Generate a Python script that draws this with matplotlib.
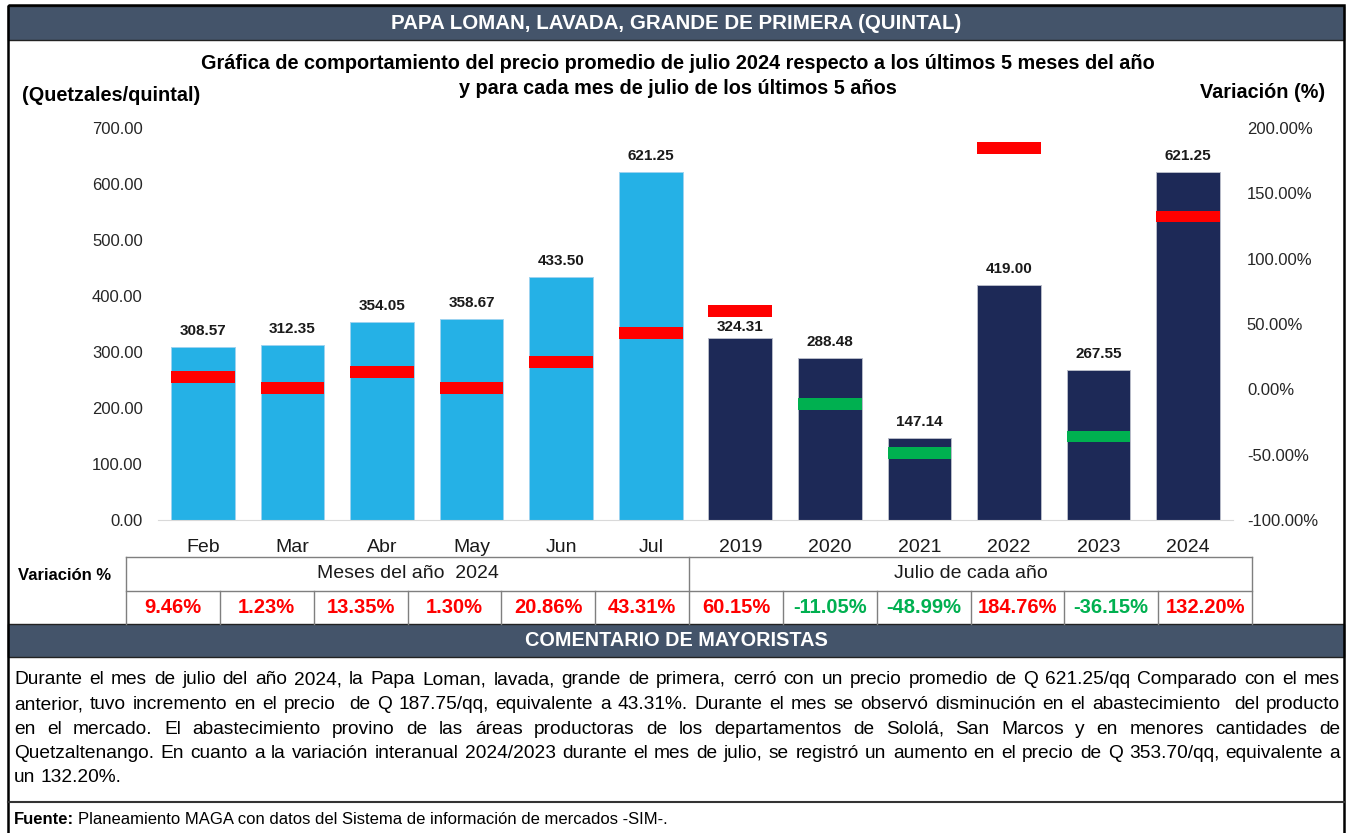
import numpy as np
import matplotlib
matplotlib.use('Agg')
import matplotlib.pyplot as plt
from matplotlib.patches import Rectangle
from matplotlib.ticker import FuncFormatter

plt.rcParams['font.family'] = ['Liberation Sans', 'DejaVu Sans']

# datos
meses = ['Feb', 'Mar', 'Abr', 'May', 'Jun', 'Jul']
precio_meses = [308.57, 312.35, 354.05, 358.67, 433.50, 621.25]
var_meses = [9.46, 1.23, 13.35, 1.30, 20.86, 43.31]
anios = ['2019', '2020', '2021', '2022', '2023', '2024']
precio_anios = [324.31, 288.48, 147.14, 419.00, 267.55, 621.25]
var_anios = [60.15, -11.05, -48.99, 184.76, -36.15, 132.20]

titulo = 'PAPA LOMAN, LAVADA, GRANDE DE PRIMERA (QUINTAL)'
subtitulo = ['Gráfica de comportamiento del precio promedio de julio 2024 respecto a los últimos 5 meses del año',
             'y para cada mes de julio de los últimos 5 años']
comentario = ['Durante el mes de julio del año 2024, la Papa Loman, lavada, grande de primera, cerró con un precio promedio de Q 621.25/qq Comparado con el mes',
              'anterior, tuvo incremento en el precio  de Q 187.75/qq, equivalente a 43.31%. Durante el mes se observó disminución en el abastecimiento  del producto',
              'en el mercado. El abastecimiento provino de las áreas productoras de los departamentos de Sololá, San Marcos y en menores cantidades de',
              'Quetzaltenango. En cuanto a la variación interanual 2024/2023 durante el mes de julio, se registró un aumento en el precio de Q 353.70/qq, equivalente a',
              'un 132.20%.']

celeste = '#25B1E6'
azul = '#1D2957'
pizarra = '#44546A'
rojo = '#FF0000'
verde = '#00B050'

W, H = 1348, 833
fig = plt.figure(figsize=(W / 100, H / 100), dpi=100)

# capa de fondo en pixeles
bg = fig.add_axes([0, 0, 1, 1])
bg.set_xlim(0, W)
bg.set_ylim(H, 0)
bg.axis('off')

# encabezado
bg.add_patch(Rectangle((8, 6), 1336, 34, fc=pizarra, ec='#222222', lw=1))
bg.text(676, 23, titulo, color='white', fontsize=14.8, fontweight='bold', ha='center', va='center')
bg.text(678, 63, subtitulo[0], fontsize=14.3, fontweight='bold', ha='center', va='center')
bg.text(678, 88, subtitulo[1], fontsize=14.3, fontweight='bold', ha='center', va='center')
bg.text(22, 95, '(Quetzales/quintal)', fontsize=14.3, fontweight='bold', ha='left', va='center')
bg.text(1325, 92, 'Variación (%)', fontsize=14.3, fontweight='bold', ha='right', va='center')

# grafica
ax = fig.add_axes([158 / W, 1 - 520 / H, 1075 / W, 392 / H])
ax.patch.set_alpha(0)
x = np.arange(12)
precios = precio_meses + precio_anios
colores = [celeste] * 6 + [azul] * 6
bordes = ['#9DD3F0'] * 6 + ['#B8BCC8'] * 6
ax.bar(x, precios, width=0.71, color=colores, edgecolor=bordes, lw=0.7, zorder=2)
for i, v in enumerate(precios):
    dy = 8 if i == 6 else 11.5   # etiqueta de 2019 debajo del marcador
    ax.annotate('{:.2f}'.format(v), (i, v), xytext=(0, dy), textcoords='offset points',
                ha='center', va='center', fontsize=11, fontweight='bold', color='#1a1a1a')
ax.set_xlim(-0.5, 11.5)
ax.set_ylim(0, 700)
ax.set_yticks(range(0, 701, 100))
ax.yaxis.set_major_formatter(FuncFormatter(lambda v, p: '{:.2f}'.format(v)))
ax.set_xticks(x, meses + anios)
for s in ['top', 'left', 'right']:
    ax.spines[s].set_visible(False)
ax.spines['bottom'].set_color('#D9D9D9')
ax.tick_params(axis='y', length=0, pad=11, labelsize=12, labelcolor='#262626')
ax.tick_params(axis='x', length=0, pad=13.5, labelsize=14, labelcolor='#1a1a1a')

ax2 = ax.twinx()
var = var_meses + var_anios
ax2.bar(x, 9, bottom=np.array(var) - 4.5, width=0.71,
        color=[rojo if v > 0 else verde for v in var], zorder=3)
ax2.set_ylim(-100, 200)
ax2.set_yticks(range(-100, 201, 50))
ax2.yaxis.set_major_formatter(FuncFormatter(lambda v, p: '{:.2f}%'.format(v)))
for s in ax2.spines.values():
    s.set_visible(False)
ax2.tick_params(axis='y', length=0, pad=10, labelsize=12, labelcolor='#262626')

# tabla de variaciones
gris = '#7F7F7F'
x0, x1 = 126, 1252
cw = (x1 - x0) / 12
bg.plot([x0, x1], [557, 557], color=gris, lw=1)
bg.plot([x0, x1], [591, 591], color=gris, lw=1)
for k in range(13):
    top = 557 if k in (0, 6, 12) else 591
    bg.plot([x0 + k * cw] * 2, [top, 624], color=gris, lw=1)
bg.text(18, 575, 'Variación %', fontsize=12, fontweight='bold', ha='left', va='center')
bg.text(x0 + 3 * cw, 574, 'Meses del año  2024', fontsize=14, ha='center', va='center', color='#1a1a1a')
bg.text(x0 + 9 * cw, 574, 'Julio de cada año', fontsize=14, ha='center', va='center', color='#1a1a1a')
for k, v in enumerate(var):
    bg.text(x0 + (k + 0.5) * cw, 607.5, '{:.2f}%'.format(v), fontsize=14.5, fontweight='bold',
            ha='center', va='center', color=rojo if v > 0 else verde)

# comentario
bg.add_patch(Rectangle((8, 624), 1336, 33, fc=pizarra, ec='#222222', lw=1))
bg.text(676, 640, 'COMENTARIO DE MAYORISTAS', color='white', fontsize=14.3, fontweight='bold',
        ha='center', va='center')

r = fig.canvas.get_renderer()
fs = 13.8
def justificar(linea, y, xa, xb, ultima=False):
    palabras = linea.split(' ')
    ts = [bg.text(0, y, p, fontsize=fs, ha='left', va='center', color='black') for p in palabras]
    anchos = [t.get_window_extent(r).width if p else 0 for t, p in zip(ts, palabras)]
    a1 = bg.text(0, y, 'a a', fontsize=fs)
    a2 = bg.text(0, y, 'aa', fontsize=fs)
    esp = a1.get_window_extent(r).width - a2.get_window_extent(r).width
    a1.remove()
    a2.remove()
    if not ultima:
        esp = max((xb - xa - sum(anchos)) / (len(palabras) - 1), 0.6 * esp)
    pos = xa
    for t, a in zip(ts, anchos):
        t.set_x(pos)
        pos += a + esp

for i, linea in enumerate(comentario):
    justificar(linea, 680 + 24.5 * i, 14, 1340, ultima=(i == len(comentario) - 1))

bg.plot([8, 1344], [802, 802], color='#333333', lw=1.5)
f = bg.text(14, 819, 'Fuente:', fontsize=12, fontweight='bold', ha='left', va='center')
fw = f.get_window_extent(r).width
bg.text(14 + fw + 4, 819, 'Planeamiento MAGA con datos del Sistema de información de mercados -SIM-.',
        fontsize=12, ha='left', va='center')

# marco
bg.add_patch(Rectangle((8, 5), 1336, 840, fill=False, ec='black', lw=1.8, clip_on=False))

fig.savefig('out.png', dpi=100)
